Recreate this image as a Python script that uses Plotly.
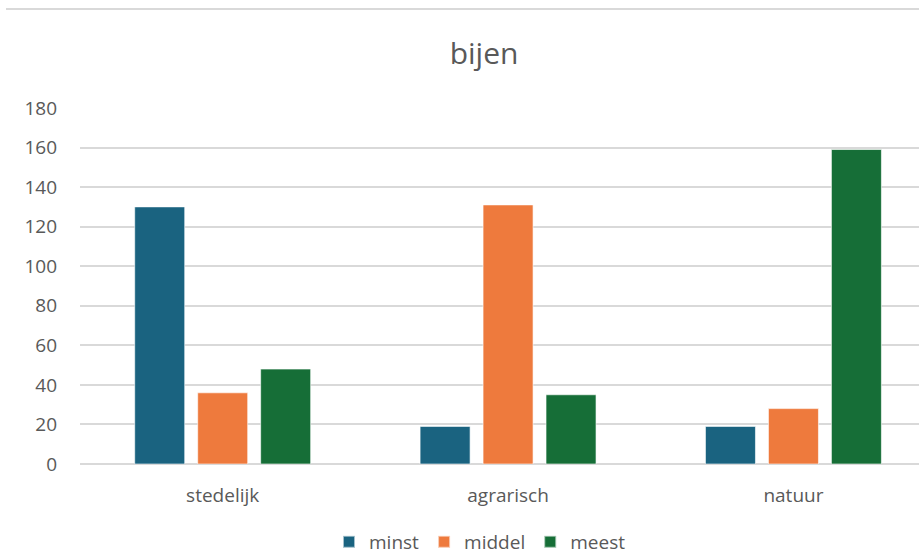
import plotly.graph_objects as go

categories = ["stedelijk", "agrarisch", "natuur"]
series_names = ["minst", "middel", "meest"]
minst = [130, 19, 19]
middel = [36, 131, 28]
meest = [48, 35, 159]
colors = ["#1A6380", "#EE7A3D", "#166E37"]
y_ticks = [0, 20, 40, 60, 80, 100, 120, 140, 160, 180]

fig = go.Figure()
for name, vals, col in zip(series_names, [minst, middel, meest], colors):
    fig.add_trace(go.Bar(
        x=categories, y=vals, name=name,
        marker=dict(color=col, line=dict(color="rgba(255,255,255,0.6)", width=1)),
    ))

font_family = "Open Sans, Liberation Sans, Arial, sans-serif"
fig.update_layout(
    width=919, height=557,
    margin=dict(l=80, r=0, t=108, b=93),
    paper_bgcolor="white", plot_bgcolor="white",
    barmode="group", bargap=0.338, bargroupgap=0.206,
    font=dict(family=font_family, color="#595959", size=19),
    title=dict(text="bijen", x=484/919, xanchor="center", xref="container",
               y=1 - 53/557, yanchor="middle", yref="container",
               font=dict(size=30, color="#595959", family=font_family)),
    legend=dict(orientation="h", x=480/919, xanchor="center", xref="container",
                y=1 - 542/557, yanchor="middle", yref="container",
                font=dict(size=19, color="#595959"), traceorder="normal",
                itemwidth=30, itemsizing="constant"),
    showlegend=True,
)
fig.update_xaxes(type="category", range=[-0.5, 2.44], showgrid=False,
                 showline=False, ticks="", ticklabelstandoff=18,
                 tickfont=dict(size=19, color="#595959"))
fig.update_yaxes(range=[0, 180], tickvals=y_ticks, showgrid=True,
                 gridcolor="#D9D9D9", gridwidth=1.5, zeroline=True,
                 zerolinecolor="#D9D9D9", zerolinewidth=1.5, showline=False,
                 ticks="", ticklabelstandoff=22,
                 tickfont=dict(size=19, color="#595959"))
fig.add_shape(type="line", xref="paper", yref="paper",
              x0=-74/839, x1=1, y0=1 + 99/356, y1=1 + 99/356,
              line=dict(color="#D9D9D9", width=2))
fig.write_html("out.html")
